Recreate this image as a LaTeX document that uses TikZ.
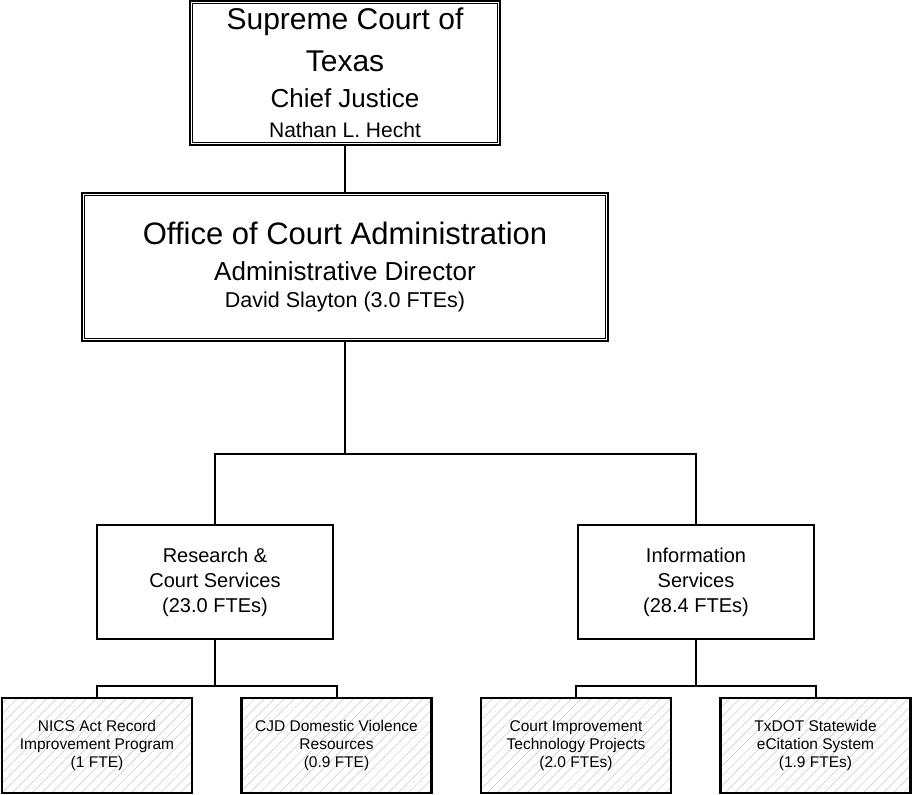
\documentclass[tikz,border=0pt]{standalone}
\usepackage{fontspec}
\setmainfont{Liberation Sans}
\usetikzlibrary{positioning}
\usetikzlibrary{patterns.meta}
\tikzset{
    conn/.style = {line width=2pt,draw=black},
    headbox/.style = {rectangle, draw=black, line width=2.2pt, align=center, inner sep=0pt},
    unitbox/.style = {rectangle, draw=black, line width=2pt, align=center, inner sep=0pt,
        minimum width=236pt, minimum height=114pt, font=\fontsize{20pt}{25pt}\selectfont},
    progbox/.style = {rectangle, draw=black, line width=2.4pt, align=center, inner sep=0pt,
        minimum width=190pt, minimum height=95pt, font=\fontsize{15.5pt}{18pt}\selectfont,
        pattern={Lines[angle=45,distance=7pt,line width=0.5pt]}, pattern color=black!22}
}
\newcommand{\innerframe}[1]{\draw[line width=1pt] ([xshift=4pt,yshift=-4pt]#1.north west) rectangle ([xshift=-4pt,yshift=4pt]#1.south east);}

\begin{document}
\begin{tikzpicture}[x=1pt,y=-1pt]
\path[use as bounding box] (0,0) rectangle (913,795);
%
\node[headbox, minimum width=310pt, minimum height=144pt, font=\fontsize{30pt}{42pt}\selectfont] at (345,73) (sct)
  {Supreme Court of\\Texas\\[-6pt]{\fontsize{26pt}{30pt}\selectfont Chief Justice}\\[-12pt]{\fontsize{21pt}{24pt}\selectfont Nathan L. Hecht}};
\node[headbox, minimum width=526pt, minimum height=148pt, font=\fontsize{31pt}{36pt}\selectfont] at (345,267) (oca)
  {Office of Court Administration\\{\fontsize{26pt}{30pt}\selectfont Administrative Director}\\[-9pt]{\fontsize{21.5pt}{24pt}\selectfont David Slayton (3.0 FTEs)}};
\innerframe{sct}
\innerframe{oca}
%
\node[unitbox] at (215,582) (rcs) {Research \&\\Court Services\\(23.0 FTEs)};
\node[unitbox] at (696,582) (isv) {Information\\Services\\(28.4 FTEs)};
%
\node[progbox] at (97,745.5) (nics) {NICS Act Record\\Improvement Program\\(1 FTE)};
\node[progbox] at (336.5,745.5) (cjd) {CJD Domestic Violence\\Resources\\(0.9 FTE)};
\node[progbox] at (576,745.5) (cit) {Court Improvement\\Technology Projects\\(2.0 FTEs)};
\node[progbox] at (815.5,745.5) (txd) {TxDOT Statewide\\eCitation System\\(1.9 FTEs)};
%
\coordinate (j1) at (345,454);
\coordinate (j2) at (215,686);
\coordinate (j3) at (696,686);
%
\draw[conn] (sct) -- (oca);
\draw[conn] (oca) -- (j1);
\draw[conn] (rcs.north) |- (j1) -| (isv.north);
\draw[conn] (rcs) -- (j2);
\draw[conn] (nics.north) |- (j2) -| (cjd.north);
\draw[conn] (isv) -- (j3);
\draw[conn] (cit.north) |- (j3) -| (txd.north);

\end{tikzpicture}
\end{document}
